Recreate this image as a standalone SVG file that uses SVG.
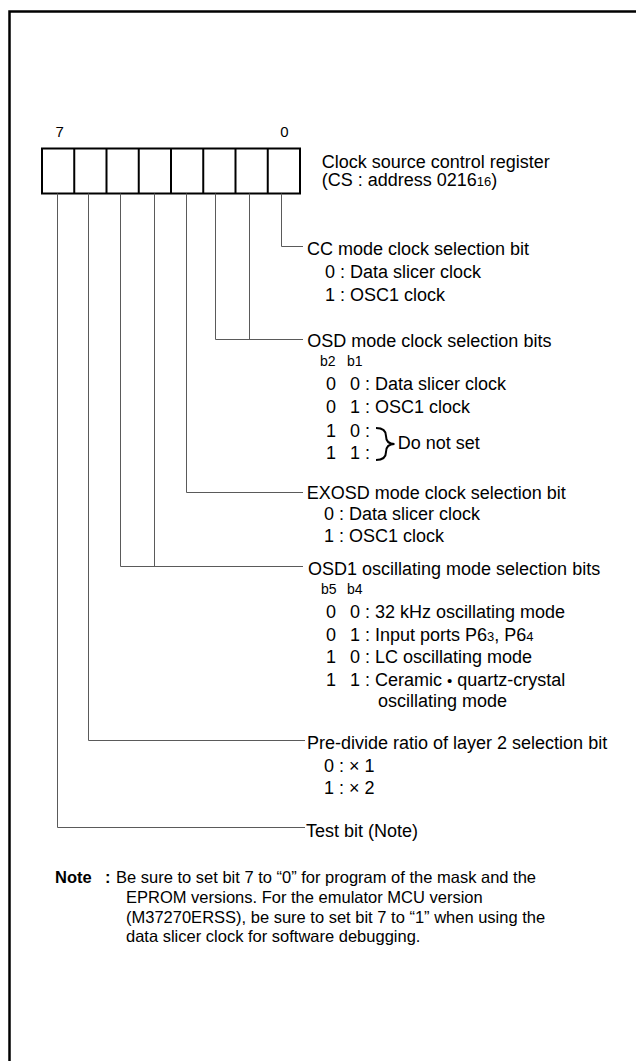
<svg xmlns="http://www.w3.org/2000/svg" width="636" height="1061" viewBox="0 0 636 1061">
<style>
text{font-family:"Liberation Sans",Arial,sans-serif;font-size:18px;fill:#000}
.sm{font-size:13px}
.bh{font-size:14px}
.bl{font-size:15px}
.nt{font-size:16.5px}
.b{font-weight:bold}
.reg{fill:none;stroke:#000;stroke-width:2}
.ln{fill:none;stroke:#5a5a5a;stroke-width:1}
.fr{fill:none;stroke:#000;stroke-width:2.5}
</style>
<rect width="636" height="1061" fill="#fff"/>
<path class="fr" d="M9.5 1061 V11.5 H636"/>
<g id="register">
<rect class="reg" x="42" y="148.5" width="258" height="45"/>
<path class="reg" d="M74.25 148.5v45M106.5 148.5v45M138.75 148.5v45M171 148.5v45M203.25 148.5v45M235.5 148.5v45M267.75 148.5v45"/>
<text class="bl" x="59.7" y="137" text-anchor="middle">7</text>
<text class="bl" x="284.5" y="137" text-anchor="middle">0</text>
<text x="321.7" y="168">Clock source control register</text>
<text x="321.7" y="186">(CS : address 0216<tspan class="sm">16</tspan>)</text>
</g>
<g id="connectors">
<path class="ln" d="M281.5 193.5V246.5H303"/>
<path class="ln" d="M249.5 193.5V339.5M215.5 193.5V339.5H303"/>
<path class="ln" d="M186.5 193.5V492.5H303"/>
<path class="ln" d="M154.5 193.5V566.5M120.5 193.5V566.5H303"/>
<path class="ln" d="M88.5 193.5V740.5H305"/>
<path class="ln" d="M57.5 193.5V827.5H305"/>
</g>
<g id="cc-mode">
<text x="307" y="255">CC mode clock selection bit</text>
<text x="325" y="278">0 : Data slicer clock</text>
<text x="325" y="300.5">1 : OSC1 clock</text>
</g>
<g id="osd-mode">
<text x="307.3" y="347">OSD mode clock selection bits</text>
<text class="bh" x="320" y="366">b2</text>
<text class="bh" x="347" y="366">b1</text>
<text x="326" y="390">0</text><text x="350" y="390">0 : Data slicer clock</text>
<text x="326" y="413">0</text><text x="350" y="413">1 : OSC1 clock</text>
<text x="326" y="436.5">1</text><text x="350" y="436.5">0 :</text>
<text x="326" y="458.5">1</text><text x="350" y="458.5">1 :</text>
<path d="M376 428C383 428 386 431 386 436C386 441 388 444 394.5 444C388 444 386 447 386 452C386 457 383 460 376 460" fill="none" stroke="#000" stroke-width="2"/>
<text x="397.7" y="448.7">Do not set</text>
</g>
<g id="exosd-mode">
<text x="306.7" y="499.3">EXOSD mode clock selection bit</text>
<text x="324" y="519.5">0 : Data slicer clock</text>
<text x="324" y="542">1 : OSC1 clock</text>
</g>
<g id="osd1-mode">
<text x="308" y="575">OSD1 oscillating mode selection bits</text>
<text class="bh" x="321" y="594">b5</text>
<text class="bh" x="347" y="594">b4</text>
<text x="326" y="618.3">0</text><text x="350" y="618.3">0 : 32 kHz oscillating mode</text>
<text x="326" y="640.7">0</text><text x="350" y="640.7">1 : Input ports P6<tspan class="sm">3</tspan>, P6<tspan class="sm">4</tspan></text>
<text x="326" y="663.3">1</text><text x="350" y="663.3">0 : LC oscillating mode</text>
<text x="326" y="686">1</text><text x="350" y="686">1 : Ceramic <tspan font-size="15">•</tspan> quartz-crystal</text>
<text x="378" y="706.7">oscillating mode</text>
</g>
<g id="predivide">
<text x="307" y="749.3">Pre-divide ratio of layer 2 selection bit</text>
<text x="324" y="771.7">0 : × 1</text>
<text x="324" y="794">1 : × 2</text>
</g>
<g id="test-bit">
<text x="306" y="836.7">Test bit (Note)</text>
</g>
<g id="note">
<text class="nt b" x="55" y="882.5">Note</text>
<text class="nt b" x="105" y="882.5">:</text>
<text class="nt" x="116" y="882.5">Be sure to set bit 7 to “0” for program of the mask and the</text>
<text class="nt" x="126" y="902.5">EPROM versions. For the emulator MCU version</text>
<text class="nt" x="126" y="922.5">(M37270ERSS), be sure to set bit 7 to “1” when using the</text>
<text class="nt" x="126" y="942">data slicer clock for software debugging.</text>
</g>
</svg>
